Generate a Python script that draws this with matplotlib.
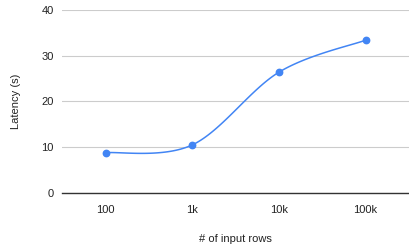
import matplotlib
matplotlib.use("Agg")
import matplotlib.pyplot as plt
import numpy as np

plt.rcParams['font.family'] = ['Liberation Sans', 'DejaVu Sans']

rows = ["100", "1k", "10k", "100k"]
latency = [8.8, 10.5, 26.4, 33.4]

fig = plt.figure(figsize=(4.09, 2.49), dpi=100)
ax = fig.add_axes([0.152, 0.225, 0.848, 0.735])

# smooth curve through the points (catmull-rom style, like the sheets "smooth" option)
x = np.arange(len(rows), dtype=float)
y = np.array(latency, dtype=float)
xs, ys = [], []
for i in range(len(x) - 1):
    p0 = np.array([x[max(i - 1, 0)], y[max(i - 1, 0)]])
    p1 = np.array([x[i], y[i]])
    p2 = np.array([x[i + 1], y[i + 1]])
    p3 = np.array([x[min(i + 2, len(x) - 1)], y[min(i + 2, len(x) - 1)]])
    c1 = p1 + (p2 - p0) / 6.0
    c2 = p2 - (p3 - p1) / 6.0
    t = np.linspace(0, 1, 40)[:, None]
    seg = (1 - t) ** 3 * p1 + 3 * (1 - t) ** 2 * t * c1 + 3 * (1 - t) * t ** 2 * c2 + t ** 3 * p2
    xs.extend(seg[:, 0])
    ys.extend(seg[:, 1])

ax.plot(xs, ys, color='#4285f4', lw=1.1, zorder=3)
ax.plot(x, y, 'o', color='#4285f4', ms=4.6, zorder=4)

ax.set_xlim(-0.5, len(rows) - 0.5)
ax.set_ylim(0, 40)
ax.set_yticks([0, 10, 20, 30, 40])
ax.set_xticks(x)
ax.set_xticklabels(rows)
ax.grid(axis='y', color='#cccccc', lw=0.8)
ax.set_axisbelow(True)
for s in ['top', 'right', 'left']:
    ax.spines[s].set_visible(False)
ax.spines['bottom'].set_color('#333333')
ax.spines['bottom'].set_linewidth(1.0)
ax.spines['bottom'].set_zorder(2)
ax.tick_params(axis='both', length=0, labelsize=8, colors='#222222')
ax.tick_params(axis='y', pad=6)
ax.tick_params(axis='x', pad=9)

ax.set_xlabel("# of input rows", fontsize=8, color='#222222', labelpad=13)
ax.set_ylabel("Latency (s)", fontsize=8, color='#222222', labelpad=15)

fig.savefig("out.png", dpi=100)
